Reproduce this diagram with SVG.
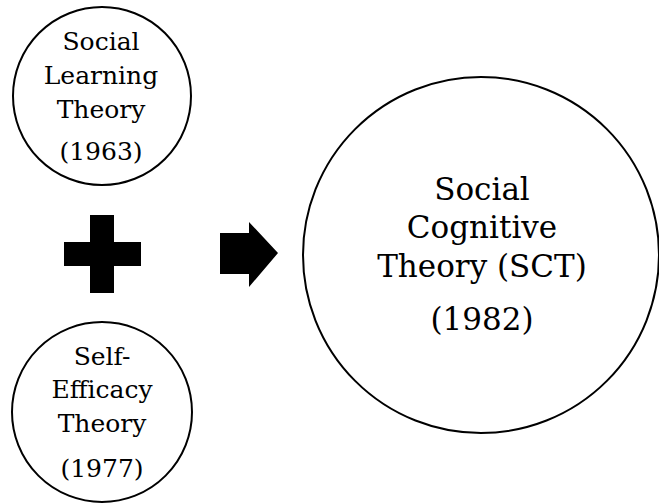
<svg xmlns="http://www.w3.org/2000/svg" width="659" height="504" viewBox="0 0 659 504">
<style>
.c{fill:#fff;stroke:#000;stroke-width:2}
.sh{fill:#000}
text{font-family:"DejaVu Serif",serif;text-anchor:middle;fill:#000}
.s{font-size:25px}
.b{font-size:31px}
</style>
<rect width="659" height="504" fill="#fff"/>
<g id="social-learning">
<circle class="c" cx="102" cy="96" r="89"/>
<text class="s" x="101" y="50">Social</text>
<text class="s" x="101" y="84">Learning</text>
<text class="s" x="101" y="118">Theory</text>
<text class="s" x="101" y="160">(1963)</text>
</g>
<g id="self-efficacy">
<circle class="c" cx="102" cy="412" r="90"/>
<text class="s" x="102" y="365">Self-</text>
<text class="s" x="102" y="398">Efficacy</text>
<text class="s" x="102" y="432">Theory</text>
<text class="s" x="102" y="477">(1977)</text>
</g>
<g id="sct">
<circle class="c" cx="481" cy="255" r="178"/>
<text class="b" x="482" y="200">Social</text>
<text class="b" x="482" y="238">Cognitive</text>
<text class="b" x="482" y="277">Theory (SCT)</text>
<text class="b" x="482" y="330">(1982)</text>
</g>
<g id="connectors">
<path class="sh" d="M90 215H114V242H141V266H114V293H90V266H64V242H90Z"/>
<path class="sh" d="M220 233H249V222L278 253L249 287V274H220Z"/>
</g>
</svg>
